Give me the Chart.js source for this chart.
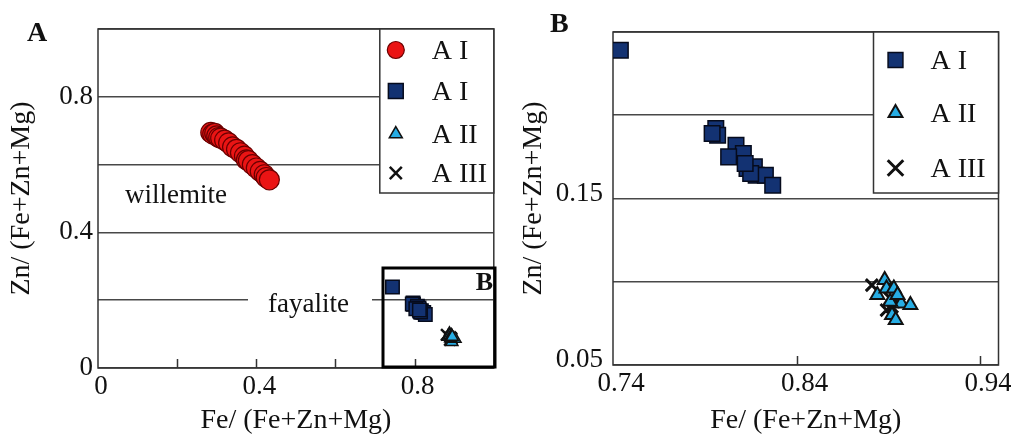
<!DOCTYPE html>
<html>
<head>
<meta charset="utf-8">
<script src="https://cdn.jsdelivr.net/npm/chart.js@4.4.1/dist/chart.umd.min.js"></script>
<style>
    html, body { margin: 0; padding: 0; background: #fff; }
    #wrap { position: relative; width: 1011px; height: 437px; }
    .panel { position: absolute; top: 0; height: 437px; }
</style>
</head>
<body>
<div id="wrap">
    <div class="panel" style="left:0;width:505px"><canvas id="chartA" width="505" height="437"></canvas></div>
    <div class="panel" style="left:505px;width:506px"><canvas id="chartB" width="506" height="437"></canvas></div>
</div>
<script>
// --- data ---
const seriesLabels = ['A I', 'A I', 'A II', 'A III'];

// willemite, A I (red circles)
const circleFe = [0.285, 0.29, 0.295, 0.30, 0.305, 0.31, 0.32, 0.33, 0.34, 0.35, 0.36, 0.37, 0.375, 0.38, 0.39, 0.40, 0.41, 0.42, 0.425, 0.433];
const circleZn = [0.695, 0.69, 0.692, 0.685, 0.68, 0.678, 0.672, 0.664, 0.652, 0.645, 0.635, 0.625, 0.614, 0.612, 0.60, 0.59, 0.58, 0.57, 0.562, 0.555];

// fayalite, A I (blue squares)
const squareFe = [0.744, 0.796, 0.797, 0.794, 0.807, 0.811, 0.803, 0.813, 0.817, 0.818, 0.823, 0.827, 0.815, 0.812];
const squareZn = [0.239, 0.192, 0.188, 0.189, 0.182, 0.177, 0.175, 0.168, 0.169, 0.164, 0.164, 0.158, 0.165, 0.171];

// A II (triangles)
const triangleFe = [0.888, 0.884, 0.889, 0.893, 0.892, 0.894, 0.897, 0.902, 0.891, 0.895];
const triangleZn = [0.101, 0.092, 0.096, 0.096, 0.080, 0.077, 0.087, 0.086, 0.088, 0.092];

// A III (crosses)
const crossFe = [0.881, 0.891, 0.892, 0.889, 0.893];
const crossZn = [0.098, 0.090, 0.085, 0.083, 0.088];

// axis ticks
const aXTickLabels = [0, 0.4, 0.8];
const aXTickMarks = [0.2, 0.4, 0.6, 0.8];
const aYGrid = [0, 0.2, 0.4, 0.6, 0.8, 1.0];
const aYTickLabels = [0, 0.4, 0.8];
const bXTickLabels = [0.74, 0.84, 0.94];
const bXTickMarks = [0.84, 0.94];
const bYGrid = [0.05, 0.1, 0.15, 0.2, 0.25];
const bYTickLabels = [0.05, 0.15];

const xTitle = 'Fe/ (Fe+Zn+Mg)';
const yTitle = 'Zn/ (Fe+Zn+Mg)';

const FONT = "'Liberation Serif', 'Times New Roman', serif";
const GRID = '#484848';
const INK = '#111';

function pts(xs, ys) {
    return xs.map((x, i) => ({ x: x, y: ys[i] }));
}

function hasTick(list, v) {
    return list.some(t => Math.abs(t - v) < 1e-9);
}

function drawMarker(ctx, style, x, y, r, fill, stroke, lw) {
    ctx.save();
    ctx.fillStyle = fill;
    ctx.strokeStyle = stroke;
    ctx.lineWidth = lw;
    ctx.beginPath();
    if (style === 'circle') {
        ctx.arc(x, y, r, 0, Math.PI * 2);
        ctx.fill(); ctx.stroke();
    } else if (style === 'rect') {
        const s = r * Math.SQRT1_2;
        ctx.rect(x - s, y - s, 2 * s, 2 * s);
        ctx.fill(); ctx.stroke();
    } else if (style === 'triangle') {
        const w = r * Math.sqrt(3) / 2;
        ctx.moveTo(x, y - r);
        ctx.lineTo(x + w, y + r / 2);
        ctx.lineTo(x - w, y + r / 2);
        ctx.closePath();
        ctx.fill(); ctx.stroke();
    } else if (style === 'crossRot') {
        const s = r * Math.SQRT1_2;
        ctx.moveTo(x - s, y - s); ctx.lineTo(x + s, y + s);
        ctx.moveTo(x - s, y + s); ctx.lineTo(x + s, y - s);
        ctx.stroke();
    }
    ctx.restore();
}

// frame, legend box, inner tick marks and labels
const panelDecor = {
    id: 'panelDecor',
    beforeDatasetsDraw(chart, args, opts) {
        const { ctx, chartArea: a, scales } = chart;
        ctx.save();

        // white gaps in grid lines behind text labels
        (opts.notes || []).forEach(n => {
            if (n.cover) {
                ctx.fillStyle = '#fff';
                ctx.fillRect(n.cover[0], n.cover[1], n.cover[2], n.cover[3]);
            }
        });

        // plot frame
        ctx.strokeStyle = '#333';
        ctx.lineWidth = 1.5;
        ctx.strokeRect(a.left, a.top, a.right - a.left, a.bottom - a.top);

        // tick marks pointing inward
        ctx.beginPath();
        opts.tickMarks.forEach(v => {
            const px = Math.round(scales.x.getPixelForValue(v)) + 0.5;
            ctx.moveTo(px, a.bottom);
            ctx.lineTo(px, a.bottom - 9);
        });
        ctx.stroke();

        // legend box
        const lg = opts.legend;
        const lx = a.right - lg.w, ly = a.top;
        ctx.fillStyle = '#fff';
        ctx.fillRect(lx, ly, lg.w, lg.h);
        ctx.strokeStyle = '#333';
        ctx.lineWidth = 1.5;
        ctx.strokeRect(lx, ly, lg.w, lg.h);
        ctx.font = lg.fontSize + 'px ' + FONT;
        ctx.textBaseline = 'middle';
        ctx.textAlign = 'left';
        chart.data.datasets.forEach((ds, i) => {
            const cy = ly + lg.rows[i];
            drawMarker(ctx, ds.pointStyle, lx + lg.markerX, cy, lg.radius[i],
                ds.backgroundColor, ds.borderColor, ds.borderWidth);
            ctx.fillStyle = INK;
            ctx.fillText(ds.label, lx + lg.textX, cy + 2);
        });

        // text notes
        (opts.notes || []).forEach(n => {
            ctx.font = n.font;
            ctx.fillStyle = INK;
            ctx.textBaseline = 'alphabetic';
            ctx.textAlign = n.align || 'left';
            ctx.fillText(n.text, n.x, n.y);
        });

        // inset box
        if (opts.inset) {
            const b = opts.inset;
            ctx.strokeStyle = '#000';
            ctx.lineWidth = 3;
            ctx.strokeRect(b[0], b[1], b[2], b[3]);
        }
        ctx.restore();
    }
};

function axisFont(size) {
    return { family: FONT, size: size };
}

function makeChart(id, cfg) {
    return new Chart(document.getElementById(id), {
        type: 'scatter',
        data: { datasets: cfg.datasets },
        plugins: [panelDecor],
        options: {
            responsive: false,
            animation: false,
            layout: { padding: cfg.padding },
            plugins: {
                legend: { display: false },
                tooltip: { enabled: false },
                panelDecor: cfg.decor
            },
            scales: {
                x: {
                    type: 'linear',
                    min: cfg.xMin, max: cfg.xMax,
                    afterFit: s => { s.height = cfg.xHeight; },
                    afterBuildTicks: s => { s.ticks = cfg.xTicks.map(v => ({ value: v })); },
                    grid: { display: false, drawTicks: false },
                    border: { display: false },
                    ticks: {
                        padding: 3, labelOffset: cfg.xLabelOffset, autoSkip: false, maxRotation: 0,
                        color: INK, font: axisFont(27),
                        callback: v => cfg.fmt(v)
                    },
                    title: { display: true, text: xTitle, color: INK, font: axisFont(28), padding: { top: 0, bottom: 0 } }
                },
                y: {
                    type: 'linear',
                    min: cfg.yMin, max: cfg.yMax,
                    afterFit: s => { s.width = cfg.yWidth; },
                    afterBuildTicks: s => { s.ticks = cfg.yGrid.map(v => ({ value: v })); },
                    grid: { color: GRID, lineWidth: 1.5, drawTicks: false },
                    border: { display: false },
                    ticks: {
                        padding: cfg.yPad, labelOffset: cfg.yLabelOffset, autoSkip: false,
                        color: INK, font: axisFont(27),
                        callback: v => hasTick(cfg.yLabels, v) ? cfg.fmt(v) : ''
                    },
                    title: { display: true, text: yTitle, color: INK, font: axisFont(28), padding: { top: cfg.yTitlePad, bottom: 0 } }
                }
            }
        }
    });
}

makeChart('chartA', {
    datasets: [
        { label: seriesLabels[0], data: pts(circleFe, circleZn), pointStyle: 'circle', pointRadius: 10,
          backgroundColor: '#ea1414', borderColor: '#6a0000', borderWidth: 1.2 },
        { label: seriesLabels[1], data: pts(squareFe, squareZn), pointStyle: 'rect', pointRadius: 9.5,
          backgroundColor: '#133272', borderColor: '#060b1c', borderWidth: 1.5 },
        { label: seriesLabels[2], data: pts(triangleFe, triangleZn), pointStyle: 'triangle', pointRadius: 7,
          backgroundColor: '#27ade4', borderColor: '#111', borderWidth: 1.5 },
        { label: seriesLabels[3], data: pts(crossFe, crossZn), pointStyle: 'crossRot', pointRadius: 8,
          backgroundColor: '#111', borderColor: '#111', borderWidth: 2.5 }
    ],
    padding: { left: 0, top: 29, right: 9, bottom: 0 },
    xMin: 0, xMax: 1, yMin: 0, yMax: 1,
    xHeight: 69, yWidth: 98, yPad: 5, yTitlePad: 5,
    xTicks: aXTickLabels, yGrid: aYGrid, yLabels: aYTickLabels,
    xLabelOffset: 3, yLabelOffset: 0,
    fmt: v => v === 0 ? '0' : String(Math.round(v * 10) / 10),
    decor: {
        tickMarks: aXTickMarks,
        legend: { w: 114, h: 164, markerX: 16, textX: 52, fontSize: 28,
                  rows: [21, 62, 105, 144], radius: [8.5, 10.5, 7.5, 8.5] },
        notes: [
            { text: 'A', x: 27, y: 41, font: 'bold 28px ' + FONT },
            { text: 'willemite', x: 125, y: 203, font: '27px ' + FONT },
            { text: 'fayalite', x: 268, y: 312, font: '27px ' + FONT, cover: [248, 292, 124, 14] },
            { text: 'B', x: 493, y: 290, font: 'bold 26px ' + FONT, align: 'right' }
        ],
        inset: [383, 268, 112, 99]
    }
});

makeChart('chartB', {
    datasets: [
        { label: seriesLabels[1], data: pts(squareFe, squareZn), pointStyle: 'rect', pointRadius: 11,
          backgroundColor: '#133272', borderColor: '#060b1c', borderWidth: 1.5 },
        { label: seriesLabels[2], data: pts(triangleFe, triangleZn), pointStyle: 'triangle', pointRadius: 8,
          backgroundColor: '#27ade4', borderColor: '#111', borderWidth: 2 },
        { label: seriesLabels[3], data: pts(crossFe, crossZn), pointStyle: 'crossRot', pointRadius: 8.5,
          backgroundColor: '#111', borderColor: '#111', borderWidth: 3 }
    ],
    padding: { left: 0, top: 32, right: 11, bottom: 0 },
    xMin: 0.74, xMax: 0.95, yMin: 0.05, yMax: 0.25,
    xHeight: 72, yWidth: 108, yPad: 10, yTitlePad: 12,
    xTicks: bXTickLabels, yGrid: bYGrid, yLabels: bYTickLabels,
    xLabelOffset: 8, yLabelOffset: -5,
    fmt: v => v.toFixed(2),
    decor: {
        tickMarks: bXTickMarks,
        legend: { w: 125, h: 161, markerX: 22, textX: 57, fontSize: 28,
                  rows: [28, 81, 136], radius: [10.5, 8, 11] },
        notes: [
            { text: 'B', x: 45, y: 32, font: 'bold 28px ' + FONT }
        ]
    }
});
</script>
</body>
</html>
